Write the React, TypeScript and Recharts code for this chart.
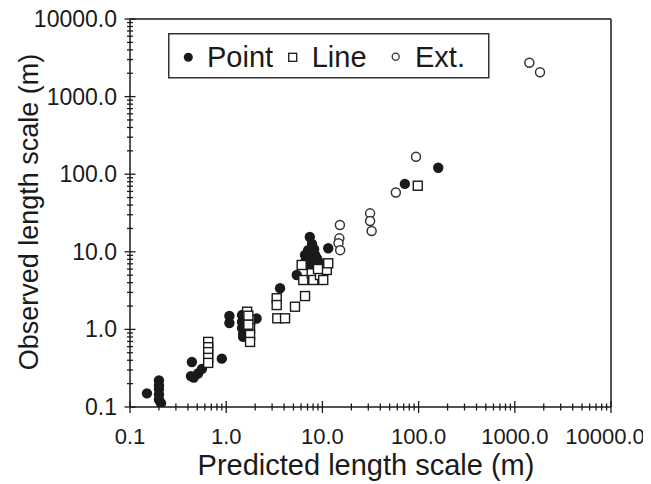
import React from 'react';
import { ScatterChart, Scatter, XAxis, YAxis, ReferenceLine } from 'recharts';

const FONT = '"Liberation Sans", Arial, Helvetica, sans-serif';
const INK = '#1a1a1a';

const majorTicks = [0.1, 1, 10, 100, 1000, 10000];
const majorTickLabels = ['0.1', '1.0', '10.0', '100.0', '1000.0', '10000.0'];
const minorMultipliers = [2, 3, 4, 5, 6, 7, 8, 9];
const allTicks = [
  ...majorTicks,
  ...majorTicks.slice(0, -1).flatMap((d) => minorMultipliers.map((m) => d * m)),
].sort((a, b) => a - b);

const pointData = [
  { x: 0.15, y: 0.15 }, { x: 0.2, y: 0.22 }, { x: 0.2, y: 0.19 }, { x: 0.2, y: 0.17 },
  { x: 0.2, y: 0.145 }, { x: 0.2, y: 0.125 }, { x: 0.21, y: 0.112 },
  { x: 0.43, y: 0.25 }, { x: 0.46, y: 0.24 }, { x: 0.51, y: 0.27 }, { x: 0.56, y: 0.31 },
  { x: 0.44, y: 0.38 }, { x: 0.9, y: 0.42 },
  { x: 1.08, y: 1.49 }, { x: 1.08, y: 1.21 }, { x: 1.46, y: 1.53 }, { x: 1.46, y: 1.25 },
  { x: 1.46, y: 1.04 }, { x: 1.5, y: 0.87 }, { x: 1.5, y: 0.8 }, { x: 2.07, y: 1.38 },
  { x: 3.63, y: 3.39 }, { x: 5.41, y: 5.02 },
  { x: 7.4, y: 15.5 }, { x: 7.8, y: 12.6 }, { x: 7.1, y: 10.5 }, { x: 6.6, y: 9.1 },
  { x: 8.4, y: 9.1 }, { x: 7.4, y: 7.8 }, { x: 9.0, y: 7.4 }, { x: 6.6, y: 7.4 },
  { x: 7.8, y: 6.2 }, { x: 9.4, y: 6.2 }, { x: 11.5, y: 11.1 }, { x: 8.0, y: 8.5 },
  { x: 6.9, y: 8.5 }, { x: 8.2, y: 10.8 }, { x: 7.2, y: 6.8 }, { x: 8.8, y: 8.2 }, { x: 10.0, y: 7.0 },
  { x: 72, y: 75 }, { x: 160, y: 121 },
];

const lineData = [
  { x: 0.65, y: 0.69 }, { x: 0.65, y: 0.59 }, { x: 0.65, y: 0.51 }, { x: 0.65, y: 0.43 }, { x: 0.65, y: 0.37 },
  { x: 1.65, y: 1.69 }, { x: 1.77, y: 1.32 }, { x: 1.77, y: 1.04 }, { x: 1.77, y: 0.85 }, { x: 1.77, y: 0.69 },
  { x: 1.7, y: 1.5 }, { x: 1.7, y: 1.15 },
  { x: 3.35, y: 2.52 }, { x: 3.35, y: 2.06 }, { x: 3.4, y: 1.39 }, { x: 4.09, y: 1.39 },
  { x: 5.19, y: 1.96 }, { x: 6.6, y: 2.69 },
  { x: 6.09, y: 6.76 }, { x: 6.33, y: 4.33 }, { x: 7.74, y: 5.28 }, { x: 8.04, y: 4.33 },
  { x: 9.44, y: 5.02 }, { x: 10.2, y: 4.33 }, { x: 11.1, y: 5.83 }, { x: 11.5, y: 7.11 },
  { x: 9.0, y: 6.0 }, { x: 98, y: 71 },
];

const extData = [
  { x: 15.2, y: 22.1 }, { x: 15.0, y: 14.9 }, { x: 14.7, y: 12.9 }, { x: 15.3, y: 10.5 },
  { x: 31.3, y: 31.3 }, { x: 31.3, y: 24.9 }, { x: 32.5, y: 18.5 },
  { x: 58, y: 58 }, { x: 94, y: 168 }, { x: 1416, y: 2735 }, { x: 1828, y: 2056 },
];

const isMajor = (v: number) => Math.abs(Math.log10(v) - Math.round(Math.log10(v))) < 1e-9;
const labelFor = (v: number) => {
  const i = majorTicks.findIndex((m) => Math.abs(m - v) / m < 1e-9);
  return i >= 0 ? majorTickLabels[i] : '';
};

const XTick = (props: any) => {
  const { x, y, payload } = props;
  const v = payload.value;
  const major = isMajor(v);
  const h = major ? 6 : 3.5;
  const last = Math.abs(v - majorTicks[majorTicks.length - 1]) < 1e-6;
  return (
    <g>
      <line x1={x} x2={x} y1={y - h} y2={y + h} stroke={INK} strokeWidth={1.3} />
      {major && (
        <text x={x} dx={last ? -6 : 0} y={y + 37} textAnchor="middle" fontSize={22} fontFamily={FONT} fill={INK}>
          {labelFor(v)}
        </text>
      )}
    </g>
  );
};

const YTick = (props: any) => {
  const { x, y, payload } = props;
  const v = payload.value;
  const major = isMajor(v);
  const h = major ? 5.5 : 3;
  return (
    <g>
      <line x1={x - h} x2={x + h} y1={y} y2={y} stroke={INK} strokeWidth={1.3} />
      {major && (
        <text x={x - 13} y={y + 8} textAnchor="end" fontSize={23} fontFamily={FONT} fill={INK}>
          {labelFor(v)}
        </text>
      )}
    </g>
  );
};

const FilledDot = (props: any) => <circle cx={props.cx} cy={props.cy} r={5.2} fill={INK} />;
const OpenSquare = (props: any) => (
  <rect x={props.cx - 4.5} y={props.cy - 4.5} width={9} height={9} fill="#fff" stroke={INK} strokeWidth={1.4} />
);
const OpenCircle = (props: any) => (
  <circle cx={props.cx} cy={props.cy} r={4.5} fill="#fff" stroke="#333" strokeWidth={1.5} />
);

export default function App() {
  return (
    <div style={{ position: 'relative', width: 643, height: 476 }}>
      <ScatterChart
        width={643}
        height={476}
        margin={{ top: 11, right: 40, bottom: 0, left: 0 }}
        style={{ overflow: 'visible' }}
      >
        <XAxis
          type="number"
          dataKey="x"
          scale="log"
          domain={[0.1, 10000]}
          allowDataOverflow
          ticks={allTicks}
          interval={0}
          tickSize={0}
          tickMargin={0}
          tickLine={false}
          height={77}
          axisLine={{ stroke: INK, strokeWidth: 1.5 }}
          tick={(p: any) => <XTick {...p} />}
        />
        <YAxis
          type="number"
          dataKey="y"
          scale="log"
          domain={[0.1, 10000]}
          allowDataOverflow
          ticks={allTicks}
          interval={0}
          tickSize={0}
          tickMargin={0}
          tickLine={false}
          width={122}
          axisLine={{ stroke: INK, strokeWidth: 1.5 }}
          tick={(p: any) => <YTick {...p} />}
        />
        <ReferenceLine y={10000} stroke={INK} strokeWidth={1.5} ifOverflow="visible" />
        <ReferenceLine x={10000} stroke={INK} strokeWidth={1.5} ifOverflow="visible" />
        <Scatter name="Point" data={pointData} shape={FilledDot} isAnimationActive={false} />
        <Scatter name="Line" data={lineData} shape={OpenSquare} isAnimationActive={false} />
        <Scatter name="Ext." data={extData} shape={OpenCircle} isAnimationActive={false} />
      </ScatterChart>
      <svg
        width={643}
        height={476}
        style={{ position: 'absolute', left: 0, top: 0, pointerEvents: 'none' }}
      >
        <text
          x={20}
          y={204}
          dy={9.5}
          transform="rotate(-90 20 204)"
          textAnchor="middle"
          fontSize={27}
          fontFamily={FONT}
          fill={INK}
        >
          Observed length scale (m)
        </text>
        <text x={358} y={467} textAnchor="middle" fontSize={29} fontFamily={FONT} fill={INK}>
          Predicted length scale (m)
        </text>
        <g transform="translate(160,25)">
          <rect x={0.75} y={0.75} width={320} height={44} fill="#fff" stroke="#333" strokeWidth={1.5} />
          <circle cx={20.3} cy={24.3} r={4.5} fill={INK} />
          <text x={39} y={33.7} fontSize={29} fontFamily={FONT} fill={INK}>Point</text>
          <rect x={120.7} y={20.3} width={8} height={8} fill="#fff" stroke={INK} strokeWidth={1.3} />
          <text x={143.7} y={33.7} fontSize={29} fontFamily={FONT} fill={INK}>Line</text>
          <circle cx={227.7} cy={23.7} r={3.5} fill="#fff" stroke="#333" strokeWidth={1.3} />
          <text x={247} y={33.7} fontSize={29} fontFamily={FONT} fill={INK}>Ext.</text>
        </g>
      </svg>
    </div>
  );
}
